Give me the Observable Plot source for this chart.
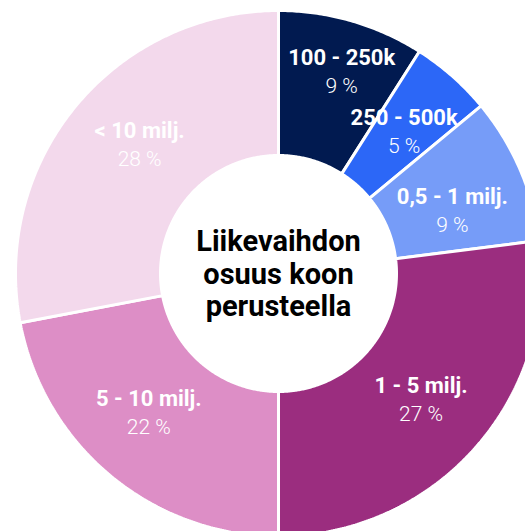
<!DOCTYPE html>
<html>
<head>
<meta charset="utf-8">
<script src="https://cdn.jsdelivr.net/npm/d3@7"></script>
<script src="https://cdn.jsdelivr.net/npm/@observablehq/plot@0.6"></script>
<style>
  html, body { margin: 0; padding: 0; background: #fff; overflow: hidden; }
  #chart svg { display: block; }
</style>
</head>
<body>
<div id="chart"></div>
<script>
const categories = ["100 - 250k", "250 - 500k", "0,5 - 1 milj.", "1 - 5 milj.", "5 - 10 milj.", "< 10 milj."];
const shares = [9, 5, 9, 27, 22, 28];
const sliceColors = ["#011a50", "#2c67f7", "#769cf8", "#9b2d7f", "#dd8ec6", "#f3d9ec"];
const title = "Liikevaihdon\nosuus koon\nperusteella";

const W = 525, H = 531;
const cx = 278, cy = 273;          // pixel centre of the donut
const R = 263, r0 = 118;           // outer / inner radius in px
const total = d3.sum(shares);
const FONT = "Roboto, 'DejaVu Sans Condensed', sans-serif";

const polys = [];
const labels = [];
let acc = 0;
shares.forEach((v, i) => {
  const a0 = acc / total * 2 * Math.PI;
  acc += v;
  const a1 = acc / total * 2 * Math.PI;
  const n = Math.max(8, Math.ceil((a1 - a0) / (Math.PI / 360)));
  const pts = [];
  for (let k = 0; k <= n; k++) {
    const a = a0 + (a1 - a0) * k / n;
    pts.push([R * Math.sin(a), R * Math.cos(a)]);
  }
  for (let k = n; k >= 0; k--) {
    const a = a0 + (a1 - a0) * k / n;
    pts.push([r0 * Math.sin(a), r0 * Math.cos(a)]);
  }
  pts.push(pts[0]);
  pts.forEach(([x, y]) => polys.push({cat: categories[i], x, y}));
  // label at the slice centroid, nudged a little clockwise for the wide slices
  const am = (a0 + a1) / 2 + (i === 0 ? 0.02 : i >= 2 && i !== 3 ? 0.06 : 0);
  const lr = i === 0 ? 212 : i === 2 ? 185 : 190;
  labels.push({cat: categories[i], pct: `${v} %`, x: lr * Math.sin(am), y: lr * Math.cos(am)});
});

const chart = Plot.plot({
  width: W,
  height: H,
  margin: 0,
  style: {background: "#fff", overflow: "hidden"},
  x: {domain: [-cx, W - cx], axis: null},
  y: {domain: [cy - H, cy], axis: null},
  color: {domain: categories, range: sliceColors},
  marks: [
    Plot.line(polys, {x: "x", y: "y", z: "cat", fill: "cat", stroke: "white", strokeWidth: 3, strokeLinejoin: "miter", curve: "linear"}),
    Plot.text(labels, {x: "x", y: "y", text: "cat", dy: -13, fill: "white", fontSize: 22, fontWeight: "bold", fontFamily: FONT}),
    Plot.text(labels, {x: "x", y: "y", text: "pct", dy: 15, fill: "white", fontSize: 21, fontWeight: 300, fontFamily: FONT}),
    Plot.text([title], {x: () => 0, y: () => 0, text: d => d, fill: "black", fontSize: 29, fontWeight: "bold", lineHeight: 1.12, fontFamily: FONT})
  ]
});
document.getElementById("chart").append(chart);
</script>
</body>
</html>
